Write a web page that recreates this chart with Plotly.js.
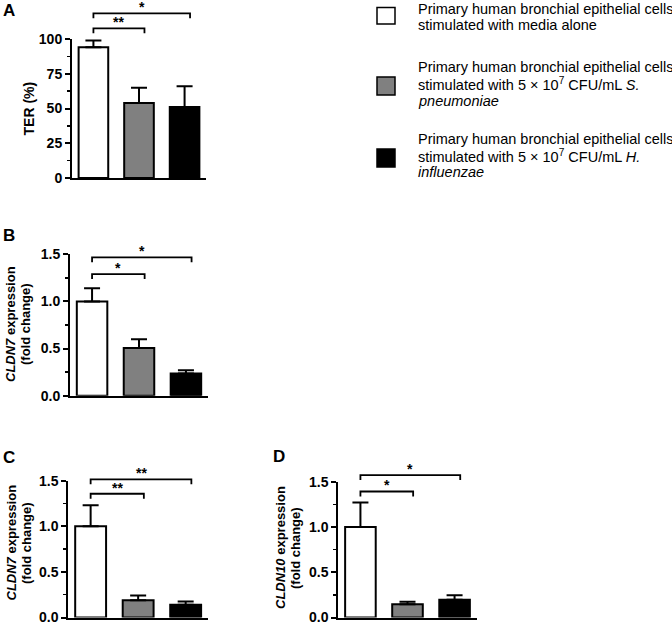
<!DOCTYPE html>
<html><head><meta charset="utf-8">
<script src="https://cdn.plot.ly/plotly-3.0.1.min.js"></script>
<style>body{margin:0;padding:0;background:#fff}</style>
</head><body><div id="chart" style="width:672px;height:626px"></div>
<script>
// ---------- data ----------
const groups = ['Media alone', 'S. pneumoniae', 'H. influenzae'];
const barColors = ['#ffffff', '#808080', '#000000'];

const terA = [94, 54, 51];
const terAErr = [5, 11, 15];
const cldn7B = [1.00, 0.505, 0.235];
const cldn7BErr = [0.14, 0.095, 0.035];
const cldn7C = [1.00, 0.19, 0.14];
const cldn7CErr = [0.23, 0.05, 0.035];
const cldn10D = [1.00, 0.145, 0.195];
const cldn10DErr = [0.27, 0.03, 0.05];

const yTickValsA = [0, 25, 50, 75, 100];
const yTickTextA = ['0', '25', '50', '75', '100'];
const yTickValsFold = [0, 0.5, 1.0, 1.5];
const yTickTextFold = ['0.0', '0.5', '1.0', '1.5'];

// significance brackets: [from group, to group, label, bracket level]
const sigA = [[0, 1, '**', 107.7], [0, 2, '*', 118.5]];
const sigB = [[0, 1, '*', 1.29], [0, 2, '*', 1.468]];
const sigC = [[0, 1, '**', 1.357], [0, 2, '**', 1.515]];
const sigD = [[0, 1, '*', 1.392], [0, 2, '*', 1.573]];

const legendEntries = [
  ['Primary human bronchial epithelial cells', 'stimulated with media alone'],
  ['Primary human bronchial epithelial cells', 'stimulated with 5 \u00d7 10<sup>7</sup> CFU/mL <i>S.</i>', '<i>pneumoniae</i>'],
  ['Primary human bronchial epithelial cells', 'stimulated with 5 \u00d7 10<sup>7</sup> CFU/mL <i>H.</i>', '<i>influenzae</i>']
];

// ---------- layout helpers ----------
const W = 672, H = 626;
const FONT = 'Liberation Sans, Arial, Helvetica, sans-serif';
const XR = [-0.47, 2.47];

const panels = [
  {vals: terA, err: terAErr, sig: sigA, range: [0, 100], px: [72, 206], py: [178, 39],
   tv: yTickValsA, tt: yTickTextA, minor: 12.5, letter: 'A', letterPos: [9, 11],
   titles: [['<b>TER (%)</b>', 28, 108.5, 14]]},
  {vals: cldn7B, err: cldn7BErr, sig: sigB, range: [0, 1.5], px: [70, 208], py: [395.7, 254.3],
   tv: yTickValsFold, tt: yTickTextFold, minor: 0.25, letter: 'B', letterPos: [9, 235],
   titles: [['<b><i>CLDN7</i> expression</b>', 11, 324, 13], ['<b>(fold change)</b>', 26, 324, 13]]},
  {vals: cldn7C, err: cldn7CErr, sig: sigC, range: [0, 1.5], px: [68.3, 208], py: [617.5, 480.7],
   tv: yTickValsFold, tt: yTickTextFold, minor: 0.25, letter: 'C', letterPos: [9, 457.5],
   titles: [['<b><i>CLDN7</i> expression</b>', 10.5, 543, 13], ['<b>(fold change)</b>', 26, 543, 13]]},
  {vals: cldn10D, err: cldn10DErr, sig: sigD, range: [0, 1.5], px: [338.3, 476.7], py: [617.5, 481.7],
   tv: yTickValsFold, tt: yTickTextFold, minor: 0.25, letter: 'D', letterPos: [279, 456],
   titles: [['<b><i>CLDN10</i> expression</b>', 280, 548, 13], ['<b>(fold change)</b>', 295, 548, 13]]}
];

function pxX(p, v) { return p.px[0] + (v - XR[0]) / (XR[1] - XR[0]) * (p.px[1] - p.px[0]); }
function pxY(p, v) { return p.py[0] + (v - p.range[0]) / (p.range[1] - p.range[0]) * (p.py[1] - p.py[0]); }
const fx = px => px / W;
const fy = py => 1 - py / H;

const traces = [];
const layout = {
  width: W, height: H, margin: {l: 0, r: 0, t: 0, b: 0},
  paper_bgcolor: '#fff', plot_bgcolor: '#fff', showlegend: false,
  font: {family: FONT, color: '#000'},
  shapes: [], annotations: []
};

panels.forEach((p, i) => {
  const n = i === 0 ? '' : String(i + 1);
  traces.push({
    type: 'bar', x: groups, y: p.vals, width: 0.65,
    xaxis: 'x' + n, yaxis: 'y' + n,
    marker: {color: barColors, line: {color: '#000', width: 2}},
    error_y: {type: 'data', symmetric: false, array: p.err, arrayminus: p.vals.map(() => 0),
              color: '#000', thickness: 2, width: 8},
    hoverinfo: 'y'
  });
  layout['xaxis' + n] = {
    domain: [fx(p.px[0]), fx(p.px[1])], range: XR, type: 'category', anchor: 'y' + n,
    showline: true, linewidth: 2, linecolor: '#000', ticks: '', showticklabels: false,
    showgrid: false, zeroline: false, fixedrange: true
  };
  layout['yaxis' + n] = {
    domain: [fy(p.py[0]), fy(p.py[1])], range: p.range, anchor: 'x' + n,
    tickmode: 'array', tickvals: p.tv, ticktext: p.tt.map(t => '<b>' + t + '</b>'),
    ticks: 'outside', ticklen: 5, tickwidth: 2, tickcolor: '#000',
    ticklabeloverflow: 'allow',
    showline: true, linewidth: 2, linecolor: '#000', showgrid: false, zeroline: false,
    tickfont: {family: FONT, size: 14, color: '#000'},
    minor: {tickmode: 'linear', tick0: 0, dtick: p.minor, ticks: 'outside', ticklen: 3,
            tickwidth: 1.5, tickcolor: '#000', showgrid: false},
    fixedrange: true
  };
  // significance brackets
  p.sig.forEach(s => {
    const x0 = pxX(p, s[0]), x1 = pxX(p, s[1] + 0.12), yl = pxY(p, s[3]), yd = yl + 5;
    layout.shapes.push({
      type: 'path', xref: 'paper', yref: 'paper',
      path: `M ${fx(x0)},${fy(yd)} L ${fx(x0)},${fy(yl)} L ${fx(x1)},${fy(yl)} L ${fx(x1)},${fy(yd)}`,
      line: {color: '#000', width: 1.8}
    });
    layout.annotations.push({
      xref: 'paper', yref: 'paper', x: fx((x0 + x1) / 2), y: fy(yl), yshift: -4,
      xanchor: 'center', yanchor: 'bottom', showarrow: false, text: '<b>' + s[2] + '</b>',
      font: {family: FONT, size: 14, color: '#000'}
    });
  });
  // panel letter
  layout.annotations.push({
    xref: 'paper', yref: 'paper', x: fx(p.letterPos[0]), y: fy(p.letterPos[1]),
    xanchor: 'center', yanchor: 'middle', showarrow: false, text: '<b>' + p.letter + '</b>',
    font: {family: FONT, size: 17, color: '#000'}
  });
  // y titles
  p.titles.forEach(t => {
    layout.annotations.push({
      xref: 'paper', yref: 'paper', x: fx(t[1]), y: fy(t[2]), textangle: -90,
      xanchor: 'center', yanchor: 'middle', showarrow: false, text: t[0],
      font: {family: FONT, size: t[3], color: '#000'}
    });
  });
});

// legend (squares + text lines)
const legendTop = [8.7, 67.2, 138.8];
const legendSq = [[7.5, 24], [77, 95], [149, 167]];
const lineGap = 16.7;
legendEntries.forEach((lines, k) => {
  layout.shapes.push({
    type: 'rect', xref: 'paper', yref: 'paper',
    x0: fx(377), x1: fx(395), y0: fy(legendSq[k][0]), y1: fy(legendSq[k][1]),
    fillcolor: barColors[k], line: {color: '#000', width: 1.5}
  });
  lines.forEach((txt, j) => {
    layout.annotations.push({
      xref: 'paper', yref: 'paper', x: fx(416), y: fy(legendTop[k] + j * lineGap),
      xanchor: 'left', yanchor: 'middle', align: 'left', showarrow: false, text: txt,
      font: {family: FONT, size: 14.5, color: '#000'}
    });
  });
});

Plotly.newPlot('chart', traces, layout, {displayModeBar: false, staticPlot: true});
</script>
</body></html>
